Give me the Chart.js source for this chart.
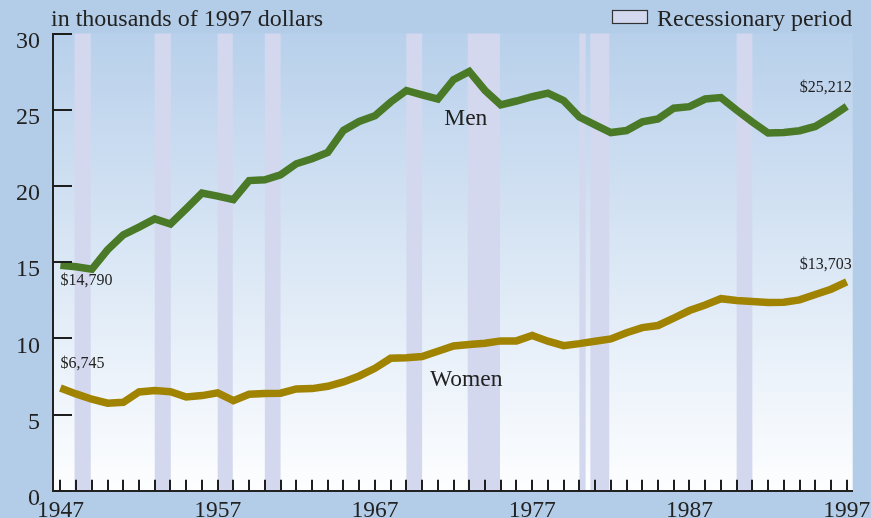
<!DOCTYPE html>
<html lang="en">
<head>
<meta charset="UTF-8">
<title>Median income of persons, by sex, 1947-1997</title>
<script src="https://cdn.jsdelivr.net/npm/chart.js@4.4.1/dist/chart.umd.min.js"></script>
<style>
    body {
        margin: 0;
        background-color: #b3cde8;
    }
    #wrap {
        width: 871px;
        height: 518px;
    }
</style>
</head>
<body>
<div id="wrap"><canvas id="chart" width="871" height="518"></canvas></div>
<script>
    // values in thousands of 1997 dollars
    const years = [1947, 1948, 1949, 1950, 1951, 1952, 1953, 1954, 1955, 1956,
                   1957, 1958, 1959, 1960, 1961, 1962, 1963, 1964, 1965, 1966,
                   1967, 1968, 1969, 1970, 1971, 1972, 1973, 1974, 1975, 1976,
                   1977, 1978, 1979, 1980, 1981, 1982, 1983, 1984, 1985, 1986,
                   1987, 1988, 1989, 1990, 1991, 1992, 1993, 1994, 1995, 1996, 1997];
    const menIncome = [14.79, 14.69, 14.53, 15.8, 16.79, 17.3, 17.84, 17.5, 18.5, 19.53,
                       19.33, 19.1, 20.35, 20.4, 20.72, 21.45, 21.78, 22.2, 23.64, 24.23,
                       24.6, 25.5, 26.26, 25.97, 25.7, 26.97, 27.51, 26.26, 25.32, 25.57,
                       25.85, 26.09, 25.6, 24.52, 24.0, 23.5, 23.63, 24.2, 24.4, 25.1,
                       25.2, 25.7, 25.8, 24.97, 24.19, 23.47, 23.51, 23.62, 23.9, 24.52, 25.212];
    const womenIncome = [6.745, 6.35, 6.0, 5.74, 5.8, 6.48, 6.57, 6.5, 6.15, 6.24,
                         6.42, 5.91, 6.33, 6.37, 6.4, 6.68, 6.7, 6.85, 7.14, 7.53,
                         8.03, 8.69, 8.73, 8.8, 9.15, 9.5, 9.59, 9.68, 9.83, 9.83,
                         10.18, 9.81, 9.52, 9.65, 9.81, 9.96, 10.37, 10.7, 10.84, 11.32,
                         11.82, 12.19, 12.6, 12.48, 12.41, 12.35, 12.37, 12.52, 12.87, 13.22, 13.703];

    const recessionStart = [1947.9, 1953.0, 1957.0, 1960.0, 1969.0, 1972.9, 1980.0, 1980.7, 1990.0];
    const recessionEnd   = [1948.93, 1954.02, 1957.96, 1961.0, 1970.0, 1974.95, 1980.4, 1981.9, 1991.0];

    const yTicks = [0, 5, 10, 15, 20, 25, 30];
    const xLabelYears = [1947, 1957, 1967, 1977, 1987, 1997];

    const SERIF = '"Liberation Serif", "Times New Roman", serif';
    const MEN_COLOR = '#4a7a28';
    const WOMEN_COLOR = '#a08300';
    const RECESSION_COLOR = '#d3d8ee';

    // text placed on the plot, anchored in data units
    const notes = [
        { text: 'Men', x: 1972.78, y: 24.0, align: 'center', size: 23.5 },
        { text: 'Women', x: 1972.8, y: 6.87, align: 'center', size: 23.5 },
        { text: '$14,790', x: 1947, y: 13.5, align: 'left', size: 16 },
        { text: '$6,745', x: 1947, y: 8.04, align: 'left', size: 16 },
        { text: '$25,212', x: 1997.32, y: 26.18, align: 'right', size: 16 },
        { text: '$13,703', x: 1997.32, y: 14.54, align: 'right', size: 16 }
    ];

    const decorations = {
        id: 'decorations',
        beforeDraw(chart) {
            const { ctx, chartArea: a, scales: { x } } = chart;
            ctx.save();
            const g = ctx.createLinearGradient(0, a.top, 0, a.bottom);
            g.addColorStop(0, '#b8d0eb');
            g.addColorStop(1, '#fdfeff');
            ctx.fillStyle = g;
            ctx.fillRect(a.left, a.top, a.right - a.left, a.bottom - a.top);

            ctx.fillStyle = RECESSION_COLOR;
            recessionStart.forEach((s, i) => {
                const x0 = x.getPixelForValue(s);
                const x1 = x.getPixelForValue(recessionEnd[i]);
                ctx.fillRect(x0, a.top, x1 - x0, a.bottom - a.top);
            });
            ctx.restore();
        },
        afterDraw(chart) {
            const { ctx, chartArea: a, scales: { x, y } } = chart;
            ctx.save();

            // inward tick marks
            ctx.strokeStyle = '#1e1e1e';
            ctx.lineWidth = 2;
            ctx.beginPath();
            yTicks.forEach(v => {
                const py = Math.round(y.getPixelForValue(v));
                ctx.moveTo(a.left, py);
                ctx.lineTo(a.left + 19, py);
            });
            years.forEach(v => {
                const px = Math.round(x.getPixelForValue(v));
                ctx.moveTo(px, a.bottom);
                ctx.lineTo(px, a.bottom - 11);
            });
            ctx.stroke();

            // notes on the plot
            ctx.fillStyle = '#222';
            ctx.textBaseline = 'alphabetic';
            notes.forEach(n => {
                ctx.font = n.size + 'px ' + SERIF;
                ctx.textAlign = n.align;
                ctx.fillText(n.text, x.getPixelForValue(n.x), y.getPixelForValue(n.y));
            });

            // subtitle and legend
            ctx.font = '24px ' + SERIF;
            ctx.textAlign = 'left';
            ctx.fillText('in thousands of 1997 dollars', 51, 26);

            ctx.fillStyle = RECESSION_COLOR;
            ctx.fillRect(612.5, 10.5, 35, 13);
            ctx.strokeStyle = '#333';
            ctx.lineWidth = 1.2;
            ctx.strokeRect(612.5, 10.5, 35, 13);
            ctx.fillStyle = '#222';
            ctx.fillText('Recessionary period', 657, 26);
            ctx.restore();
        }
    };

    const ctx = document.getElementById('chart').getContext('2d');
    new Chart(ctx, {
        type: 'line',
        data: {
            datasets: [{
                label: 'Men',
                data: years.map((yr, i) => ({ x: yr, y: menIncome[i] })),
                borderColor: MEN_COLOR,
                borderWidth: 7.5,
                pointRadius: 0,
                tension: 0
            }, {
                label: 'Women',
                data: years.map((yr, i) => ({ x: yr, y: womenIncome[i] })),
                borderColor: WOMEN_COLOR,
                borderWidth: 7.5,
                pointRadius: 0,
                tension: 0
            }]
        },
        options: {
            responsive: false,
            animation: false,
            devicePixelRatio: 1,
            layout: {
                padding: { top: 33.5, right: 18.3, left: 0, bottom: 0 }
            },
            plugins: {
                legend: { display: false },
                tooltip: { enabled: false }
            },
            scales: {
                x: {
                    type: 'linear',
                    min: 1946.53,
                    max: 1997.38,
                    afterFit: s => {
                        s.height = 27.3;
                        s.paddingLeft = 0;
                        s.paddingRight = 0;
                    },
                    afterBuildTicks: s => { s.ticks = xLabelYears.map(v => ({ value: v })); },
                    grid: { display: true, drawOnChartArea: false, drawTicks: false },
                    border: { display: true, color: '#222', width: 2 },
                    ticks: {
                        autoSkip: false,
                        maxRotation: 0,
                        padding: 6,
                        color: '#222',
                        font: { family: SERIF, size: 23.5 },
                        callback: v => String(v)
                    }
                },
                y: {
                    min: 0,
                    max: 30,
                    afterFit: s => {
                        s.width = 53;
                        s.paddingTop = 0;
                        s.paddingBottom = 0;
                    },
                    afterBuildTicks: s => { s.ticks = yTicks.map(v => ({ value: v })); },
                    grid: { display: true, drawOnChartArea: false, drawTicks: false },
                    border: { display: true, color: '#222', width: 2 },
                    ticks: {
                        padding: 13,
                        labelOffset: 8,
                        color: '#222',
                        font: { family: SERIF, size: 24 }
                    }
                }
            }
        },
        plugins: [decorations]
    });
</script>
</body>
</html>
